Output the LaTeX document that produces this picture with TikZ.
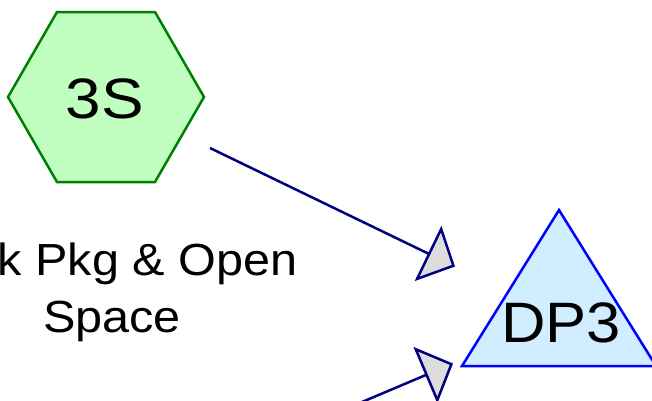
\documentclass[tikz,border=0pt]{standalone}
\usepackage{fontspec}
\setmainfont{Liberation Sans}
\newfontfamily\widesans[FakeStretch=1.08]{Liberation Sans}
\newfontfamily\widersans[FakeStretch=1.12]{Liberation Sans}
\usetikzlibrary{arrows.meta}
\definecolor{hexfill}{RGB}{192,255,192}
\definecolor{hexline}{RGB}{0,128,0}
\definecolor{trifill}{RGB}{208,238,255}
\definecolor{triline}{RGB}{0,0,255}
\definecolor{arrline}{RGB}{0,0,128}
\definecolor{headfill}{RGB}{221,221,221}
\begin{document}
\begin{tikzpicture}[x=1pt,y=-1pt,
  hexshape/.style={draw=hexline,fill=hexfill,line width=2.5pt,line join=miter},
  trishape/.style={draw=triline,fill=trifill,line width=2.5pt,line join=miter},
  bigtxt/.style={inner sep=0pt,font=\widesans\fontsize{57}{57}\selectfont},
  lbltxt/.style={inner sep=0pt,font=\widesans\fontsize{45}{45}\selectfont},
  flow/.style={draw=arrline,line width=2.5pt,-{Triangle[length=30pt,width=61pt,fill=headfill]}}]
\useasboundingbox (0,0) rectangle (652,400);
\clip (0,0) rectangle (652,400);
% hexagon 3S
\path[hexshape] (8,97) -- (57,12) -- (155,12) -- (204,97) -- (155,182) -- (57,182) -- cycle;
\node[bigtxt,font=\widersans\fontsize{57}{57}\selectfont,anchor=base] (hex) at (105,118) {3S};
% label
\node[lbltxt,anchor=base west] (lblA) at (-2.5,275) {k Pkg \& Open};
\node[lbltxt,anchor=base] (lblB) at (112,332) {Space};
% triangle DP3
\path[trishape] (559,210) -- (462,366) -- (656,366) -- cycle;
\node[bigtxt,anchor=base] (dp) at (561,342) {DP3};
% connectors
\coordinate (s1) at (210,148);
\coordinate (e1) at (455,266.5);
\coordinate (s2) at (310,424);
\coordinate (e2) at (453,363.5);
\draw[flow] (s1) -- (e1);
\draw[flow] (s2) -- (e2);
\end{tikzpicture}
\end{document}
